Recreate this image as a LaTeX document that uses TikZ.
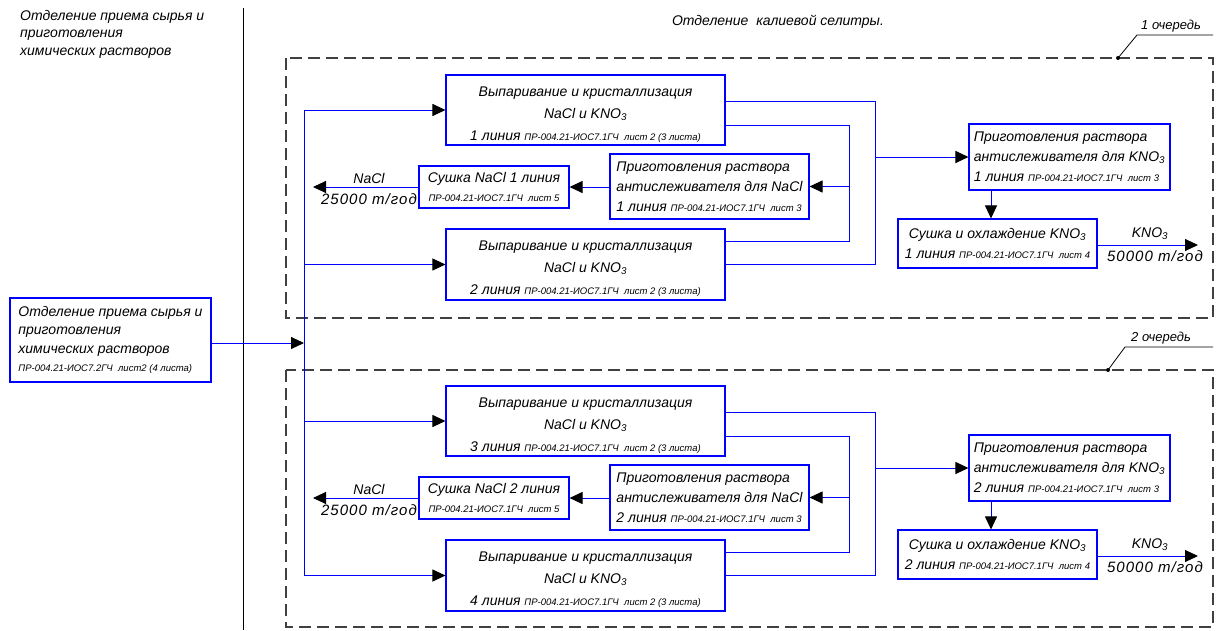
\documentclass[tikz,border=0pt]{standalone}
\usepackage{fontspec}
\setmainfont{Liberation Sans}
\usetikzlibrary{arrows.meta}
\newcommand{\sm}[1]{{\fontsize{9.5}{11}\selectfont #1}}
\newcommand{\qty}[1]{{\addfontfeature{LetterSpace=7}#1}}
\newcommand{\topstrut}{\rule{0pt}{18pt}}
\begin{document}
\begin{tikzpicture}[x=1pt,y=-1pt,
  box/.style={draw=blue, line width=1.1pt, inner sep=0pt, text=black, font=\itshape\fontsize{14}{22}\selectfont, align=center},
  lbl/.style={inner sep=0pt, text=black, font=\itshape\fontsize{14}{16}\selectfont},
  wire/.style={blue, line width=1pt},
  flow/.style={wire, -{Triangle[length=13pt,width=12pt,color=black]}},
  frame/.style={draw=black!75, line width=1.3pt, dash pattern=on 12pt off 6pt},
  lead/.style={black, line width=0.8pt},
]
\useasboundingbox (0,0) rectangle (1221,630);
% separator
\coordinate (sepT) at (243,8);
\coordinate (sepB) at (243,630);
\draw[black, line width=1pt] (sepT) -- (sepB);
\node[lbl, anchor=north west, align=left, font=\itshape\fontsize{14}{17.5}\selectfont] (tl) at (20,10) {Отделение приема сырья и\\приготовления\\химических растворов};
\node[lbl] (hdr) at (778,22) {Отделение \ калиевой селитры.};
% frames
\draw[frame] (286,58) rectangle (1213,318);
\draw[frame] (286,370) rectangle (1213,627);
% queue labels
\node[lbl, anchor=south west, font=\itshape\fontsize{13}{14}\selectfont] (q1) at (1141,32) {1 очередь};
\coordinate (q1a) at (1118,58);
\coordinate (q1b) at (1137,35);
\coordinate (q1c) at (1213,35);
\draw[lead] (q1a) -- (q1b) -- (q1c);
\fill (q1a) circle (2);
\node[lbl, anchor=south west, font=\itshape\fontsize{13}{14}\selectfont] (q2) at (1131,344) {2 очередь};
\coordinate (q2a) at (1108,370);
\coordinate (q2b) at (1125,347);
\coordinate (q2c) at (1213,347);
\draw[lead] (q2a) -- (q2b) -- (q2c);
\fill (q2a) circle (2);
% left box
\node[box, minimum width=201pt, minimum height=84pt, align=left, font=\itshape\fontsize{14}{18.5}\selectfont] (L) at (110.5,340) {Отделение приема сырья и\\приготовления\\химических растворов\\\sm{ПР-004.21-ИОС7.2ГЧ \ лист2 (4 листа)}};
\coordinate (bus) at (304,343);
\coordinate (busT) at (304,110);
\coordinate (busB) at (304,575);
\draw[wire] (busT) -- (busB);
\draw[flow] (L.east |- bus) -- (bus);
\foreach \dy/\ia/\ib/\nn in {0/1/2/1,311/3/4/2}{
  \node[box, minimum width=279pt, minimum height=70pt] (e\ia) at (585.5,{110+\dy}) {\topstrut Выпаривание и кристаллизация\\NaCl и KNO\textsubscript{3}\\\ia{} линия \sm{ПР-004.21-ИОС7.1ГЧ \ лист 2 (3 листа)}};
  \node[box, minimum width=279pt, minimum height=71pt] (e\ib) at (585.5,{264.5+\dy}) {\topstrut Выпаривание и кристаллизация\\NaCl и KNO\textsubscript{3}\\\ib{} линия \sm{ПР-004.21-ИОС7.1ГЧ \ лист 2 (3 листа)}};
  \node[box, minimum width=199pt, minimum height=65pt, align=left, font=\itshape\fontsize{14}{20}\selectfont] (a\nn) at (709.5,{186.5+\dy}) {Приготовления раствора\\антислеживателя для NaCl\\\nn{} линия \sm{ПР-004.21-ИОС7.1ГЧ \ лист 3}};
  \node[box, minimum width=150pt, minimum height=42pt, font=\itshape\fontsize{14}{19}\selectfont] (d\nn) at (494,{187+\dy}) {Сушка NaCl \nn{} линия\\\sm{ПР-004.21-ИОС7.1ГЧ \ лист 5}};
  \node[box, minimum width=201pt, minimum height=66pt, align=left, font=\itshape\fontsize{14}{20}\selectfont] (k\nn) at (1069.5,{157+\dy}) {Приготовления раствора\\антислеживателя для KNO\textsubscript{3}\\\nn{} линия \sm{ПР-004.21-ИОС7.1ГЧ \ лист 3}};
  \node[box, minimum width=199pt, minimum height=49pt, font=\itshape\fontsize{14}{20}\selectfont] (s\nn) at (997.5,{243.5+\dy}) {Сушка и охлаждение KNO\textsubscript{3}\\\nn{} линия \sm{ПР-004.21-ИОС7.1ГЧ \ лист 4}};
  % feed
  \draw[flow] (e\ia.west -| bus) -- (e\ia.west);
  \draw[flow] (e\ib.west -| bus) -- (e\ib.west);
  % loops
  \coordinate (jo\nn) at (875,{101+\dy});
  \coordinate (ji\nn) at (849,{125+\dy});
  \coordinate (jib\nn) at (849,{241+\dy});
  \draw[wire] (e\ia.east |- jo\nn) -- (jo\nn) -- (jo\nn |- e\ib.east) -- (e\ib.east);
  \draw[wire] (e\ia.east |- ji\nn) -- (ji\nn) -- (jib\nn) -- (e\ib.east |- jib\nn);
  \draw[flow] (ji\nn |- a\nn.east) -- (a\nn.east);
  \draw[flow] (jo\nn |- k\nn.west) -- (k\nn.west);
  \coordinate (kx\nn) at (991,{157+\dy});
  \draw[flow] (k\nn.south -| kx\nn) -- (s\nn.north -| kx\nn);
  \coordinate (ko\nn) at (1198,{245+\dy});
  \draw[flow] (s\nn.east |- ko\nn) -- (ko\nn);
  \draw[flow] (a\nn.west |- d\nn.east) -- (d\nn.east);
  \coordinate (no\nn) at (313,{187+\dy});
  \draw[flow] (d\nn.west) -- (no\nn);
  % product labels
  \node[lbl] (nl\nn) at (369,{178+\dy}) {NaCl};
  \node[lbl, font=\itshape\fontsize{15}{16}\selectfont] (nt\nn) at (369,{199+\dy}) {\qty{25000 т/год}};
  \node[lbl] (kl\nn) at (1150,{234+\dy}) {KNO\textsubscript{3}};
  \node[lbl, font=\itshape\fontsize{15}{16}\selectfont] (kt\nn) at (1155,{256+\dy}) {\qty{50000 т/год}};
}
\end{tikzpicture}
\end{document}
